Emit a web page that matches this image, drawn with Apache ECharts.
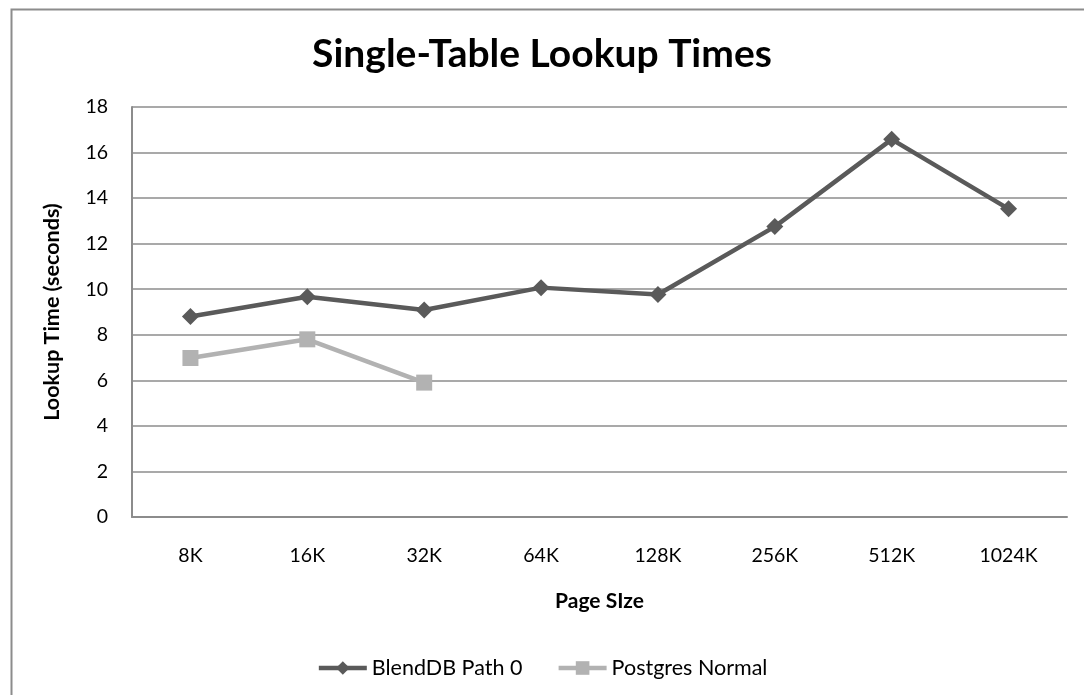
<!DOCTYPE html>
<html>
<head>
<meta charset="utf-8">
<script src="https://cdn.jsdelivr.net/npm/echarts@6/dist/echarts.min.js"></script>
<style>
html,body{margin:0;padding:0;background:#fff;}
#chart{width:1084px;height:695px;}
</style>
</head>
<body>
<div id="chart"></div>
<script>
var categories = ['8K','16K','32K','64K','128K','256K','512K','1024K'];
var blendDB = [8.8, 9.67, 9.09, 10.07, 9.77, 12.75, 16.58, 13.53];
var postgres = [6.98, 7.8, 5.9, null, null, null, null, null];
var seriesNames = ['BlendDB Path 0', 'Postgres Normal'];

var FONT = 'Lato';
var chart = echarts.init(document.getElementById('chart'));
chart.setOption({
  backgroundColor: '#fff',
  animation: false,
  textStyle: {fontFamily: FONT},
  graphic: [{
    type: 'rect', left: 9, top: 7, z: -1,
    shape: {width: 1200, height: 800},
    style: {fill: 'none', stroke: '#8c8c8c', lineWidth: 2}
  }],
  title: {
    text: 'Single-Table Lookup Times',
    left: 'center', top: 30,
    textStyle: {fontFamily: FONT, fontSize: 39, fontWeight: 'bold', color: '#000'}
  },
  legend: {
    data: seriesNames,
    left: 'center', top: 652,
    itemWidth: 48, itemHeight: 17, itemGap: 34,
    lineStyle: {width: 4.5},
    textStyle: {fontFamily: FONT, fontSize: 21.5, color: '#000'}
  },
  grid: {left: 132, right: 17, top: 107, bottom: 178, containLabel: false},
  xAxis: {
    type: 'category',
    data: categories,
    boundaryGap: true,
    name: 'Page SIze',
    nameLocation: 'middle',
    nameGap: 74,
    nameTextStyle: {fontFamily: FONT, fontSize: 21, fontWeight: 'bold', color: '#000'},
    axisLine: {lineStyle: {color: '#8c8c8c', width: 2}},
    axisTick: {show: false},
    axisLabel: {margin: 29, fontFamily: FONT, fontSize: 19.5, color: '#000'}
  },
  yAxis: {
    type: 'value',
    min: 0, max: 18, interval: 2,
    name: 'Lookup Time (seconds)',
    nameLocation: 'middle',
    nameGap: 69,
    nameTextStyle: {fontFamily: FONT, fontSize: 21.5, fontWeight: 'bold', color: '#000'},
    axisLine: {show: true, lineStyle: {color: '#8c8c8c', width: 2}},
    axisTick: {show: false},
    axisLabel: {margin: 24, fontFamily: FONT, fontSize: 19.5, color: '#000'},
    splitLine: {lineStyle: {color: '#8c8c8c', width: 1.5}}
  },
  series: [{
    name: seriesNames[0],
    type: 'line',
    data: blendDB,
    symbol: 'diamond', symbolSize: 17,
    lineStyle: {color: '#5a5a5a', width: 4.5},
    itemStyle: {color: '#5a5a5a'}
  }, {
    name: seriesNames[1],
    type: 'line',
    data: postgres,
    symbol: 'rect', symbolSize: 16,
    lineStyle: {color: '#b2b2b2', width: 4.5},
    itemStyle: {color: '#b2b2b2'}
  }]
});
</script>
</body>
</html>
